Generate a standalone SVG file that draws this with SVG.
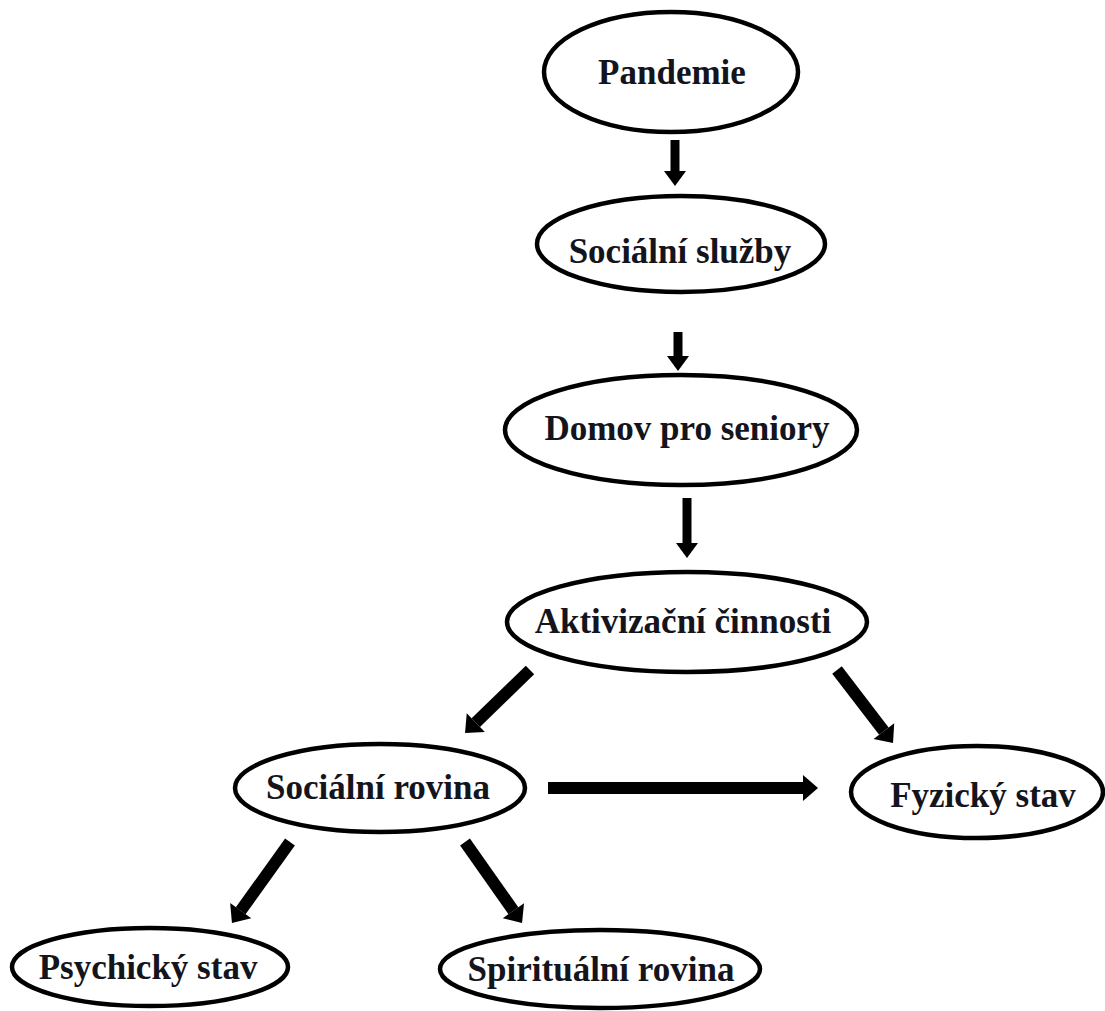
<svg xmlns="http://www.w3.org/2000/svg" width="1105" height="1011" viewBox="0 0 1105 1011">
<style>
.node ellipse{fill:#fff;stroke:#000;stroke-width:4.5}
.node text{font-family:"Liberation Serif","Times New Roman",serif;font-weight:bold;font-size:35px;fill:#14141c;text-anchor:middle}
.thin{stroke:#000;stroke-width:9;fill:none;marker-end:url(#headS)}
.thick{stroke:#000;stroke-width:12;fill:none;marker-end:url(#headL)}
</style>
<defs>
<marker id="headS" markerUnits="userSpaceOnUse" markerWidth="15" markerHeight="22" refX="0" refY="11" orient="auto" overflow="visible"><path d="M0,0 L15,11 L0,22 z" fill="#000"/></marker>
<marker id="headL" markerUnits="userSpaceOnUse" markerWidth="15" markerHeight="26" refX="0" refY="13" orient="auto" overflow="visible"><path d="M0,0 L15,13 L0,26 z" fill="#000"/></marker>
</defs>
<rect width="1105" height="1011" fill="#fff"/>
<g id="connectors">
<line class="thin" x1="675" y1="140" x2="675" y2="171"/>
<line class="thin" x1="678" y1="332" x2="678" y2="356"/>
<line class="thin" x1="687" y1="498" x2="687" y2="543"/>
<line class="thick" x1="530" y1="670" x2="475.8" y2="722.6"/>
<line class="thick" x1="837" y1="670" x2="883.9" y2="731.1"/>
<line class="thick" x1="548" y1="788" x2="803" y2="788"/>
<line class="thick" x1="290" y1="842" x2="240.7" y2="910.7"/>
<line class="thick" x1="465" y1="842" x2="513.4" y2="910.7"/>
</g>
<g id="pandemie" class="node"><ellipse cx="671" cy="72" rx="127" ry="60"/><text x="672" y="84">Pandemie</text></g>
<g id="socialni-sluzby" class="node"><ellipse cx="681" cy="244" rx="144" ry="48"/><text x="680" y="263">Sociální služby</text></g>
<g id="domov" class="node"><ellipse cx="681" cy="430" rx="176" ry="55"/><text x="687" y="440">Domov pro seniory</text></g>
<g id="aktivizacni" class="node"><ellipse cx="687" cy="622" rx="180" ry="50"/><text x="683" y="633">Aktivizační činnosti</text></g>
<g id="socialni-rovina" class="node"><ellipse cx="380" cy="788" rx="145" ry="44"/><text x="378" y="799">Sociální rovina</text></g>
<g id="fyzicky" class="node"><ellipse cx="977" cy="792" rx="126" ry="46"/><text x="983" y="807">Fyzický stav</text></g>
<g id="psychicky" class="node"><ellipse cx="150" cy="967" rx="138" ry="39"/><text x="148" y="979">Psychický stav</text></g>
<g id="spiritualni" class="node"><ellipse cx="600" cy="969" rx="160" ry="39"/><text x="601" y="981">Spirituální rovina</text></g>
</svg>
